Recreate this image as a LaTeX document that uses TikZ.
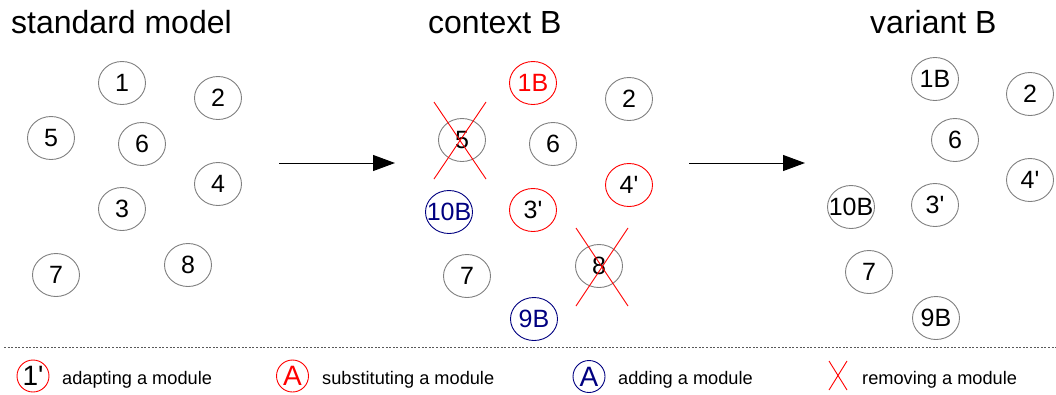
\documentclass[tikz,border=0pt]{standalone}
\usepackage{fontspec}
\setmainfont{Liberation Sans}
\usetikzlibrary{shapes.geometric,arrows.meta}
\definecolor{navyb}{RGB}{0,0,128}
\definecolor{circgray}{RGB}{128,128,128}
\newcommand{\modtxt}[1]{\makebox[0pt][c]{#1}}
\newcommand{\pr}{\textquotesingle}
\tikzset{
  mod/.style={ellipse, draw=circgray, line width=0.9pt, minimum width=47pt, minimum height=43pt, inner sep=0pt, font=\fontsize{25}{25}\selectfont},
  modred/.style={mod, draw=red},
  modblue/.style={mod, draw=navyb, text=navyb},
  legmod/.style={ellipse, draw=red, line width=0.9pt, minimum width=32pt, minimum height=32pt, inner sep=0pt, font=\fontsize{28}{28}\selectfont},
  title/.style={anchor=base west, inner sep=0pt, font=\fontsize{32}{32}\selectfont},
  legtext/.style={anchor=base west, inner sep=0pt, font=\fontsize{18.2}{18.2}\selectfont},
  cross/.style={red, line width=0.9pt},
  flow/.style={black, line width=1pt, -{Triangle[length=22pt,width=16pt]}}
}
\begin{document}
\begin{tikzpicture}[x=1pt,y=-1pt]
\useasboundingbox (0,0) rectangle (1056,394);
% titles
\node[title] (t1) at (11,33) {standard model};
\node[title] (t2) at (428,33) {context B};
\node[title] (t3) at (870,33) {variant B};
% standard model
\node[mod] (s1) at (122,83) {\modtxt{1}};
\node[mod] (s2) at (218,98) {\modtxt{2}};
\node[mod] (s5) at (51,138) {\modtxt{5}};
\node[mod] (s6) at (142,144) {\modtxt{6}};
\node[mod] (s4) at (218,184) {\modtxt{4}};
\node[mod] (s3) at (122,209) {\modtxt{3}};
\node[mod] (s8) at (188,265) {\modtxt{8}};
\node[mod] (s7) at (56,275) {\modtxt{7}};
% context B
\node[modred, text=red] (c1) at (533,83) {\modtxt{1B}};
\node[mod] (c2) at (629,99) {\modtxt{2}};
\node[mod] (c5) at (462,140) {\modtxt{5}};
\node[mod] (c6) at (553,144) {\modtxt{6}};
\node[modred] (c4) at (629,185) {\modtxt{4\pr}};
\node[modblue] (c10) at (449,212) {\modtxt{10B}};
\node[modred] (c3) at (533,210) {\modtxt{3\pr}};
\node[mod] (c8) at (599,266) {\modtxt{8}};
\node[mod] (c7) at (467,276) {\modtxt{7}};
\node[modblue] (c9) at (534,319) {\modtxt{9B}};
\draw[cross] (c5.center) ++(-28,-38) -- ++(52,77);
\draw[cross] (c5.center) ++(24,-38) -- ++(-52,77);
\draw[cross] (c8.center) ++(-23,-38) -- ++(52,78);
\draw[cross] (c8.center) ++(29,-38) -- ++(-52,78);
% variant B
\node[mod] (v1) at (935,79) {\modtxt{1B}};
\node[mod] (v2) at (1030,94) {\modtxt{2}};
\node[mod] (v6) at (955,140) {\modtxt{6}};
\node[mod] (v4) at (1030,180) {\modtxt{4\pr}};
\node[mod] (v10) at (851,207) {\modtxt{10B}};
\node[mod] (v3) at (935,205) {\modtxt{3\pr}};
\node[mod] (v7) at (869,272) {\modtxt{7}};
\node[mod] (v9) at (936,318) {\modtxt{9B}};
% arrows
\coordinate (a1s) at (279,163);
\coordinate (a1e) at (395,163);
\coordinate (a2s) at (689,163);
\coordinate (a2e) at (805,163);
\draw[flow] (a1s) -- (a1e);
\draw[flow] (a2s) -- (a2e);
% separator
\coordinate (ds) at (4,347.5);
\coordinate (de) at (1056,347.5);
\draw[gray!70!black, line width=0.8pt, dash pattern=on 2pt off 1.6pt] (ds) -- (de);
% legend
\node[legmod] (l1) at (33,376) {\modtxt{1\pr}};
\node[legtext] (lt1) at (62,384) {adapting a module};
\node[legmod, text=red] (l2) at (292.5,376) {\modtxt{A}};
\node[legtext] (lt2) at (322,384) {substituting a module};
\node[legmod, draw=navyb, text=navyb] (l3) at (589,376.5) {\modtxt{A}};
\node[legtext] (lt3) at (618,384) {adding a module};
\coordinate (x1) at (829,361);
\coordinate (x2) at (847,390);
\coordinate (x3) at (847,361);
\coordinate (x4) at (829,390);
\draw[cross] (x1) -- (x2);
\draw[cross] (x3) -- (x4);
\node[legtext] (lt4) at (862,384) {removing a module};
\end{tikzpicture}
\end{document}
